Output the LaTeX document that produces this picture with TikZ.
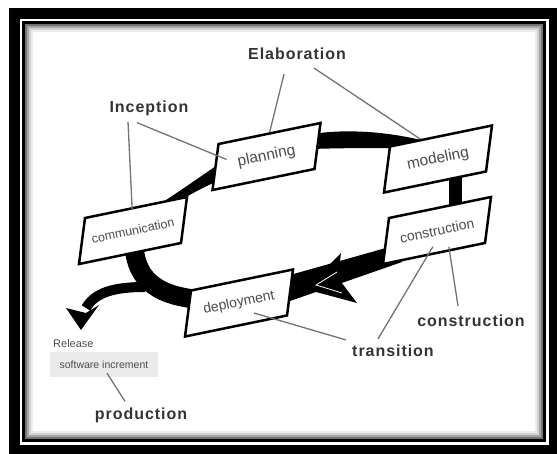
\documentclass[tikz,border=0pt]{standalone}
\usepackage{fontspec}
\setmainfont{Liberation Sans}
\newfontfamily\phasefont{Liberation Sans}[LetterSpace=6]
\usetikzlibrary{calc}

\begin{document}
\begin{tikzpicture}[x=1pt,y=-1pt,
    activity/.style={draw,line width=2.5pt,fill=white,inner sep=0pt,
      minimum width=102pt,minimum height=46pt,
      cm={1,0.206,0.13,1,(0,0)},transform shape,
      label={[activity text]center:#1}},
    activity text/.style={rotate=11.65,inner sep=0pt,text=black!70,
      font=\fontsize{14}{16}\selectfont},
    phase/.style={inner sep=0pt,text=black!80,
      font=\phasefont\bfseries\fontsize{16}{18}\selectfont},
    leader/.style={draw=black!55,line width=1.3pt}]
    \useasboundingbox (0,0) rectangle (557,453);
    % Frame
    \draw[line width=11pt] (14,13.5) rectangle (554,450);
    \draw[line width=3pt] (23.5,22.5) rectangle (544.5,440);
    \foreach \d/\g in {2.5/55,4.5/35,6.5/18,8.5/7}
      \draw[black!\g,line width=2pt] (23.5+\d,22.5+\d) rectangle (544.5-\d,440-\d);
    % Cycle
    \fill (150,210) .. controls (175,195) and (195,180) .. (225,160)
      -- (225,178) .. controls (200,188) and (180,200) .. (155,216) -- cycle;
    \fill (312,134) .. controls (345,129) and (385,131) .. (425,141)
      -- (395,148) .. controls (370,148) and (340,148) .. (312,149) -- cycle;
    \fill (449,175) rectangle (462,205);
    \fill (290,275) -- (400,244) -- (402,262) -- (290,301) -- cycle;
    \fill (305,289) -- (341,253) -- (338,278) -- (357,303) -- cycle;
    \draw[white,line width=0.8pt] (337,272) -- (316,285) -- (342,293);
    \draw[line width=19pt] (134,245) .. controls (136,282) and (160,297) .. (205,300);
    \draw[line width=10pt] (145,287) .. controls (115,287) and (95,292) .. (86,308);
    \fill (66,308) -- (81,330) -- (99,305) -- (86,313) -- cycle;
    % Activities
    \node[activity={\fontsize{12.5}{14}\selectfont communication}] (communication) at (133,230.5) {};
    \node[activity={\fontsize{15.5}{17}\selectfont planning}] (planning) at (266.5,156.5) {};
    \node[activity={\fontsize{15.5}{17}\selectfont modeling}] (modeling) at (438,159) {};
    \node[activity=construction] (construction) at (437,230.5) {};
    \node[activity=deployment] (deployment) at (239,303) {};
    % Release
    \node[anchor=west,inner sep=0pt,text=black!70,font=\fontsize{11}{13}\selectfont]
      (release) at (53,344) {Release};
    \node[fill=black!8,minimum width=108pt,minimum height=25pt,inner sep=0pt,
      text=black!70,font=\fontsize{10.5}{12}\selectfont]
      (increment) at (104,364.5) {software increment};
    % Phases
    \node[phase] (elaboration) at (297,54) {Elaboration};
    \node[phase] (inception) at (149,108) {Inception};
    \node[phase] (constructionphase) at (471,321) {construction};
    \node[phase] (transition) at (393,351) {transition};
    \node[phase] (production) at (141,415) {production};
    % Leaders
    \draw[leader] ([shift={(-13,14)}]elaboration.south) -- (planning.north);
    \draw[leader] ([shift={(17,8)}]elaboration.south) -- ($(modeling.north west)!0.6!(modeling.north)$);
    \draw[leader] ([shift={(-21,6)}]inception.south) -- ([shift={(-4,3)}]communication.north);
    \draw[leader] ([shift={(-12,7)}]inception.south) -- ([shift={(-40,3)}]planning.center);
    \draw[leader] ([shift={(-13,-9)}]constructionphase.north) -- ([shift={(15,-8)}]construction.south);
    \draw[leader] ([shift={(-15,-6)}]transition.north) -- ([shift={(-1,-8)}]construction.south);
    \draw[leader] ([shift={(-47,-5)}]transition.north) -- ([shift={(15,10)}]deployment.center);
    \draw[leader] ([shift={(-16,-6)}]production.north) -- ([shift={(3,-4)}]increment.south);
\end{tikzpicture}
\end{document}
